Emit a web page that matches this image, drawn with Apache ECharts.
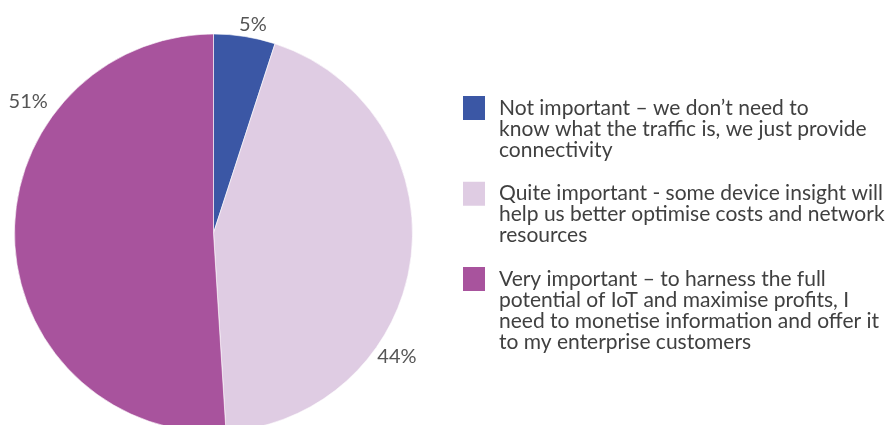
<!DOCTYPE html>
<html>
<head>
<meta charset="utf-8">
<script src="https://cdn.jsdelivr.net/npm/echarts@6/dist/echarts.min.js"></script>
<style>
  html, body { margin: 0; padding: 0; background: #fff; }
  #chart { width: 886px; height: 425px; }
</style>
</head>
<body>
<div id="chart"></div>
<script>
// Survey answers: how important is device/traffic insight
const categories = [
  'Not important – we don’t need to\nknow what the traffic is, we just provide\nconnectivity',
  'Quite important - some device insight will\nhelp us better optimise costs and network\nresources',
  'Very important – to harness the full\npotential of IoT and maximise profits, I\nneed to monetise information and offer it\nto my enterprise customers'
];
const values = [5, 44, 51];
const colors = ['#3B57A5', '#DFCCE3', '#A8539D'];

// Where each percentage label sits around the pie: [angle clockwise from 12 o'clock, distance from centre]
const labelAnchors = [[10.7, 212], [123.9, 221], [305.3, 227]];
// Vertical centre of each legend swatch
const swatchCentres = [108, 193.7, 279];

const FONT = 'Lato';
const FONT_SIZE = 21;
const LINE = 21;
const CENTER = [213.5, 233];
const RADIUS = 199;

const chart = echarts.init(document.getElementById('chart'), null, { renderer: 'canvas' });

// Legend text is centred on the swatch; leading blank lines push the first
// text line level with the swatch, and a small spacer widens the gap.
function legendText(name) {
  const lines = name.split('\n');
  return '\n'.repeat(lines.length - 1) +
    lines.map(l => '{s|}{t|' + l + '}').join('\n');
}

const legends = categories.map((name, i) => {
  const lines = name.split('\n').length;
  const blockHalf = (2 * lines - 1) * LINE / 2;
  return {
    orient: 'vertical',
    left: 461,
    top: swatchCentres[i] - blockHalf,
    padding: 0,
    itemWidth: 24,
    itemHeight: 26,
    icon: 'rect',
    selectedMode: false,
    data: [name],
    formatter: legendText,
    textStyle: {
      fontFamily: FONT,
      fontSize: FONT_SIZE,
      lineHeight: LINE,
      color: '#404040',
      rich: {
        s: { width: 8, lineHeight: LINE },
        t: { fontFamily: FONT, fontSize: FONT_SIZE, lineHeight: LINE, color: '#404040' }
      }
    }
  };
});

chart.setOption({
  animation: false,
  color: colors,
  legend: legends,
  series: [{
    type: 'pie',
    center: CENTER,
    radius: RADIUS,
    startAngle: 90,
    clockwise: true,
    silent: true,
    itemStyle: { borderColor: '#ffffff', borderWidth: 0.6 },
    label: {
      show: true,
      position: 'inside',
      formatter: '{c}%',
      fontFamily: FONT,
      fontSize: 20,
      color: '#555555'
    },
    labelLine: { show: false },
    labelLayout: function (params) {
      const a = labelAnchors[params.dataIndex];
      const rad = a[0] * Math.PI / 180;
      return {
        x: CENTER[0] + Math.sin(rad) * a[1],
        y: CENTER[1] - Math.cos(rad) * a[1],
        align: 'center',
        verticalAlign: 'middle'
      };
    },
    data: categories.map((name, i) => ({ name: name, value: values[i] }))
  }]
});
</script>
</body>
</html>
